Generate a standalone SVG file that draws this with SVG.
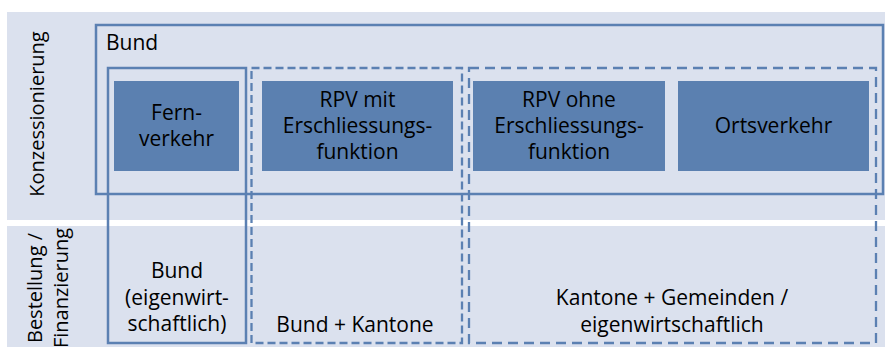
<svg xmlns="http://www.w3.org/2000/svg" width="885" height="347" viewBox="0 0 885 347">
  <defs>
    <style>
      .band { fill: #dbe1ee; }
      .tile { fill: #5b80b0; }
      .frame { fill: none; stroke: #5b80b2; stroke-width: 2.5; }
      .dash-a { fill: none; stroke: #5b80b2; stroke-width: 2.3; stroke-dasharray: 8 4; }
      .dash-b { fill: none; stroke: #5b80b2; stroke-width: 2.3; stroke-dasharray: 10 6; }
      text { font-family: "Open Sans", "Liberation Sans", sans-serif; font-size: 21px; fill: #000; }
      .side { font-size: 20px; }
      .mid { text-anchor: middle; }
    </style>
  </defs>

  <!-- row bands -->
  <rect class="band" x="7" y="12" width="878" height="208"/>
  <rect class="band" x="7" y="226" width="878" height="121"/>

  <!-- row labels -->
  <text class="mid side" transform="translate(44,114) rotate(-90)">Konzessionierung</text>
  <text class="mid side" transform="translate(42,288) rotate(-90)">Bestellung /</text>
  <text class="mid side" transform="translate(68,288) rotate(-90)">Finanzierung</text>

  <!-- Bund (Konzessionierung) -->
  <g id="bund-konzession">
    <rect class="frame" x="96" y="25" width="787" height="169"/>
    <text x="106" y="50">Bund</text>
  </g>

  <!-- column groups -->
  <g id="col-fernverkehr">
    <rect class="frame" x="108" y="68" width="138" height="275"/>
  </g>
  <g id="col-bund-kantone">
    <rect class="dash-a" x="251.5" y="68" width="210.5" height="275"/>
  </g>
  <g id="col-kantone-gemeinden">
    <rect class="dash-b" x="469" y="68" width="407" height="275"/>
  </g>

  <!-- service tiles -->
  <g id="fernverkehr">
    <rect class="tile" x="114" y="81" width="125" height="90"/>
    <text class="mid" x="176.5" y="120">Fern-</text>
    <text class="mid" x="176.5" y="146">verkehr</text>
  </g>
  <g id="rpv-mit">
    <rect class="tile" x="262" y="81" width="191" height="90"/>
    <text class="mid" x="357.5" y="107">RPV mit</text>
    <text class="mid" x="357.5" y="133">Erschliessungs-</text>
    <text class="mid" x="357.5" y="159">funktion</text>
  </g>
  <g id="rpv-ohne">
    <rect class="tile" x="473" y="81" width="192" height="90"/>
    <text class="mid" x="569" y="107">RPV ohne</text>
    <text class="mid" x="569" y="133">Erschliessungs-</text>
    <text class="mid" x="569" y="159">funktion</text>
  </g>
  <g id="ortsverkehr">
    <rect class="tile" x="678" y="81" width="191" height="90"/>
    <text class="mid" x="773.5" y="133">Ortsverkehr</text>
  </g>

  <!-- financing labels -->
  <g id="fin-bund">
    <text class="mid" x="177" y="278">Bund</text>
    <text class="mid" x="177" y="305">(eigenwirt-</text>
    <text class="mid" x="177" y="331">schaftlich)</text>
  </g>
  <g id="fin-bund-kantone">
    <text class="mid" x="355" y="332">Bund + Kantone</text>
  </g>
  <g id="fin-kantone-gemeinden">
    <text class="mid" x="672" y="305">Kantone + Gemeinden /</text>
    <text class="mid" x="672" y="332">eigenwirtschaftlich</text>
  </g>

  <g id="connectors"></g>
</svg>
